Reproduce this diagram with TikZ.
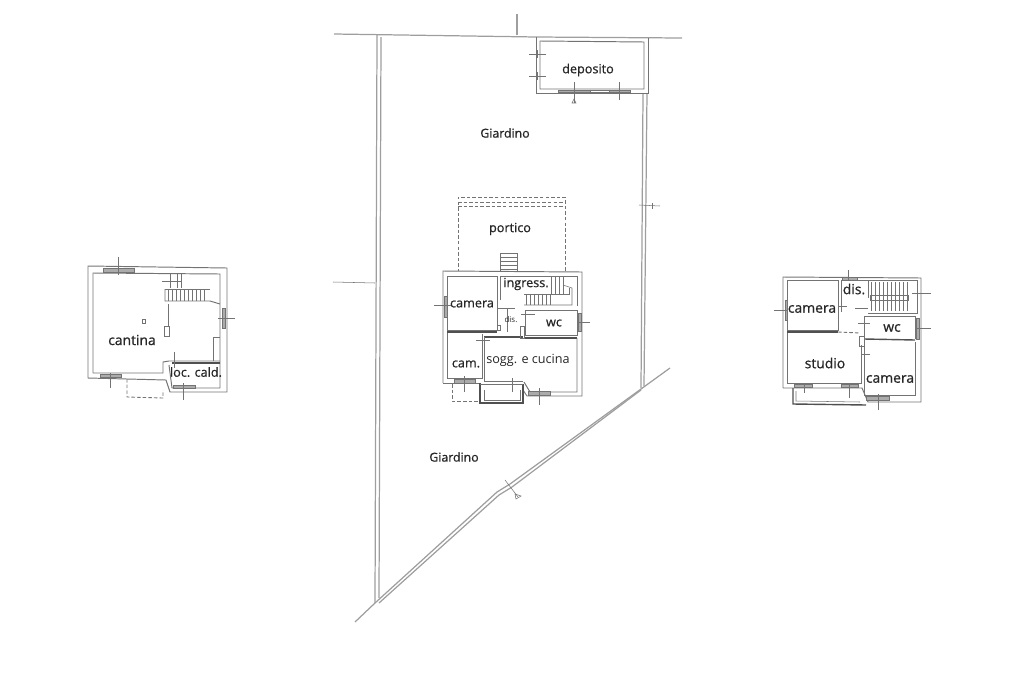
\documentclass[tikz,border=0pt]{standalone}
\usepackage{fontspec}
\setmainfont{Open Sans}
\newfontfamily\roomfont[FakeBold=0.8]{Open Sans}
\definecolor{wallgray}{gray}{0.45}
\definecolor{lotgray}{gray}{0.62}
\tikzset{
  lot/.style={draw=lotgray, line width=0.7pt},
  wall/.style={draw=wallgray, line width=0.55pt},
  thickwall/.style={draw=wallgray!70!black, line width=0.8pt},
  fine/.style={draw=wallgray, line width=0.3pt},
  dashwall/.style={draw=wallgray, line width=0.5pt, dash pattern=on 2pt off 1.2pt},
  glass/.style={draw=wallgray, fill=wallgray!60, line width=0.3pt},
  room/.style={font=\roomfont\fontsize{7.2}{9}\selectfont, text=black!85, inner sep=0pt},
  big/.style={font=\roomfont\fontsize{7.9}{9}\selectfont, text=black!85, inner sep=0pt},
  yard/.style={font=\roomfont\fontsize{7}{8}\selectfont, text=black!85, inner sep=0pt}
}
\begin{document}
\begin{tikzpicture}[x=0.02cm,y=-0.02cm]
\useasboundingbox (0,0) rectangle (1024,683);
% lot
\draw [lot] (334,34) -- (536,37) -- (682,38);
\draw [lot] (517,14) -- (517,35);
\draw [lot] (377,35) -- (375,603);
\draw [lot] (381,37) -- (379,598);
\draw [lot] (647,93) -- (644,386);
\draw [lot] (643,93) -- (641,388);
\draw [lot] (355,622) -- (375,603) -- (497,492) -- (510,484) -- (670,368);
\draw [lot] (379,603) -- (499,495) -- (512,487) -- (641,390);
\draw [fine] (333,282) -- (375,283);
\draw [fine] (639,205) -- (660,206);
\draw [fine] (505,480) -- (518,497);
\draw [fine] (515,494) -- (521,496) -- (516,499) -- cycle;
\draw [fine] (652,203) -- (652,209);
% deposito
\draw [wall] (536,37) -- (536,93) -- (648,93) -- (648,38);
\draw [wall] (540,41) -- (644,42) -- (644,89) -- (540,89) -- cycle;
\draw [glass] (558,90) rectangle (590,92);
\draw [glass] (609,90) rectangle (630,92);
\draw [fine] (590,90) rectangle (609,92);
\draw [fine] (529,54) -- (546,54);
\draw [fine] (529,76) -- (546,76);
\draw [wall] (537,50) -- (537,58);
\draw [wall] (537,72) -- (537,80);
\draw [fine] (574,82) -- (574,103);
\draw [fine] (572,103) -- (576,103) -- (574,99) -- cycle;
\draw [fine] (619,82) -- (619,100);
% portico
\draw [dashwall] (565,271) -- (565,197) -- (458,197) -- (458,271);
\draw [dashwall] (458,202) -- (565,202);
\draw [dashwall] (458,206) -- (565,206);
\draw [fine] (500,272) -- (500,253) -- (517,253) -- (517,272);
\foreach \y in {257,261,265,269} \draw [fine] (500,\y) -- (517,\y);
% main house
\draw [wall] (443,383) -- (443,271) -- (582,272) -- (582,396) -- (527,396) -- (523,390);
\draw [wall] (443,383) -- (480,383);
\draw [wall] (447,378) -- (447,276) -- (497,276) -- (497,330) -- (447,330);
\draw [thickwall] (447,332) -- (497,332);
\draw [wall] (482,334) -- (482,378) -- (447,378);
\draw [wall] (500,300) -- (500,276) -- (577,276) -- (577,306);
\draw [wall] (525,335) -- (525,310) -- (577,310) -- (577,335) -- cycle;
\draw [thickwall] (484,337) -- (523,337);
\draw [thickwall] (525,338) -- (577,338);
\draw [wall] (484,337) -- (484,381) -- (523,381);
\draw [wall] (577,338) -- (577,392) -- (530,392) -- (524,382);
\draw [thickwall] (480,383) -- (480,403) -- (523,403) -- (523,384);
\draw [wall] (480,384) -- (523,384);
\draw [fine] (484,390) -- (484,400) -- (520,400) -- (520,390);
\draw [dashwall] (452,384) -- (452,401) -- (478,401);
\draw [glass] (454,379) rectangle (475,383);
\draw [glass] (528,391) rectangle (550,395);
\draw [glass] (444,296) rectangle (447,317);
\draw [glass] (578,313) rectangle (581,331);
\draw [fine] (434,305) -- (452,305);
\draw [fine] (464,376) -- (464,392);
\draw [fine] (512,378) -- (512,392);
\draw [fine] (539,388) -- (539,405);
\draw [fine] (577,322) -- (590,322);
\draw [fine] (482,340) -- (482,350);
\draw [fine] (476,340) -- (490,340);
\draw [fine] (507,308) -- (507,332);
\draw [fine] (497,308) -- (515,308);
\draw [fine] (521,314) -- (535,314);
\draw [wall] (497,325) rectangle (500,330);
\draw [wall] (520,326) rectangle (524,338);
\foreach \x in {526,530,...,550} \draw [fine] (\x,294) -- (\x,305);
\foreach \x in {551,555,559,563} \draw [fine] (\x,277) -- (\x,294);
\draw [fine] (524,294) -- (563,294);
\draw [fine] (524,305) -- (572,305) -- (572,288) -- (563,285);
\draw [fine] (563,294) -- (569,294) -- (569,288);
% cantina
\draw [wall] (88,378) -- (88,266) -- (227,268) -- (227,392) -- (170,392) -- (166,380) -- (88,378);
\draw [wall] (93,373) -- (93,273) -- (220,274) -- (220,388) -- (172,388) -- (169,365);
\draw [wall] (93,373) -- (163,373) -- (163,362) -- (169,361) -- (220,361);
\draw [thickwall] (172,363) -- (220,363);
\draw [glass] (103,268) rectangle (134,272);
\draw [glass] (100,374) rectangle (121,377);
\draw [glass] (173,385) rectangle (195,388);
\draw [glass] (222,308) rectangle (225,328);
\draw [wall] (118,257) -- (118,275);
\draw [fine] (110,373) -- (110,388);
\draw [fine] (183,383) -- (183,400);
\draw [fine] (218,318) -- (235,318);
\draw [fine] (162,281) -- (182,281);
\draw [fine] (170,273) -- (170,288);
\draw [fine] (177,273) -- (177,288);
\draw [fine] (181,273) -- (181,288);
\foreach \x in {168,172,...,204} \draw [fine] (\x,289) -- (\x,301);
\draw [fine] (165,289) -- (210,289);
\draw [wall] (165,289) -- (165,301) -- (210,301) -- (220,304);
\draw [fine] (168,304) -- (168,326);
\draw [wall] (164,326) rectangle (169,336);
\draw [wall] (213,361) -- (213,337) -- (220,337);
\draw [fine] (174,352) -- (174,368);
\draw [fine] (142,319) rectangle (145,323);
\draw [dashwall] (127,379) -- (127,397) -- (163,398) -- (163,390);
% right floor
\draw [wall] (783,388) -- (783,277) -- (921,278) -- (921,402) -- (868,402) -- (862,388) -- (783,388);
\draw [wall] (787,383) -- (787,280) -- (838,280) -- (838,330) -- (787,330);
\draw [thickwall] (787,332) -- (838,332);
\draw [dashwall] (838,332) -- (860,333);
\draw [wall] (787,333) -- (787,383) -- (861,383) -- (861,345);
\draw [wall] (841,280) -- (841,312);
\draw [wall] (841,280) -- (868,280) -- (868,298);
\draw [wall] (864,340) -- (864,316) -- (915,316) -- (915,339);
\draw [thickwall] (864,339) -- (915,340);
\draw [wall] (864,342) -- (864,395) -- (915,395) -- (915,342);
\draw [wall] (868,280) -- (917,280) -- (917,313) -- (868,313);
\draw [thickwall] (793,388) -- (793,404) -- (866,405);
\draw [fine] (796,391) -- (796,401) -- (860,402);
\draw [glass] (842,277) rectangle (857,280);
\draw [glass] (866,396) rectangle (889,400);
\draw [glass] (916,318) rectangle (919,339);
\draw [glass] (785,300) rectangle (787,320);
\draw [glass] (794,384) rectangle (812,387);
\draw [glass] (841,384) rectangle (858,387);
\draw [wall] (859,336) rectangle (864,346);
\draw [fine] (848,270) -- (848,280);
\draw [fine] (774,310) -- (787,310);
\draw [fine] (912,293) -- (931,293);
\draw [fine] (916,328) -- (931,328);
\draw [fine] (804,383) -- (804,393);
\draw [fine] (849,383) -- (849,398);
\draw [fine] (878,394) -- (878,410);
\draw [fine] (858,323) -- (870,323);
\draw [fine] (862,354) -- (870,354);
\draw [fine] (855,308) -- (868,308);
\draw [fine] (838,306) -- (847,306);
\foreach \x in {871,875,...,907} \draw [fine] (\x,282) -- (\x,311);
\draw [wall] (870,295) -- (908,295) -- (908,300) -- (870,300) -- cycle;
% labels
\node [room] (depositoLabel) at (588,70) {deposito};
\node [yard] (giardinoUp) at (505,133) {Giardino};
\node [yard] (giardinoDown) at (454,457) {Giardino};
\node [room] (porticoLabel) at (510,229) {portico};
\node [room] (ingressLabel) at (526,284) {ingress.};
\node [room] (cameraLabel) at (472,304) {camera};
\node [room, font=\fontsize{4.5}{5}\selectfont] (disLabel) at (511,320) {dis.};
\node [room] (wcLabel) at (554,323) {wc};
\node [room] (camLabel) at (466,364) {cam.};
\node [room, font=\fontsize{7.2}{9}\selectfont] (soggLabel) at (528,360) {sogg. e cucina};
\node [big] (cantinaLabel) at (132,340) {cantina};
\node [room] (locLabel) at (196,372) {loc. cald.};
\node [big] (cameraOne) at (812,309) {camera};
\node [big] (disTwo) at (854,289) {dis.};
\node [big] (wcTwo) at (892,328) {wc};
\node [big] (studioLabel) at (825,363) {studio};
\node [big] (cameraTwo) at (890,379) {camera};
\end{tikzpicture}
\end{document}
